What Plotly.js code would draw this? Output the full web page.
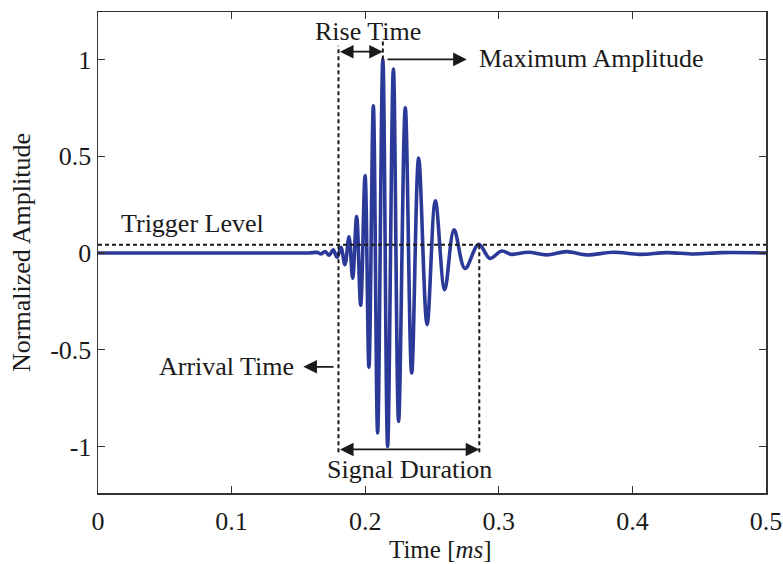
<!DOCTYPE html>
<html>
<head>
<meta charset="utf-8">
<script src="https://cdn.plot.ly/plotly-3.0.1.min.js"></script>
<style>html,body{margin:0;padding:0;background:#fff;}#chart{width:783px;height:564px;}</style>
</head>
<body>
<div id="chart"></div>
<script>
// Signal extrema (time in ms, normalized amplitude)
const timeMs = [0, 0.08, 0.14, 0.158, 0.164, 0.167, 0.170, 0.173, 0.176, 0.179, 0.1818, 0.1848,
  0.1879, 0.1906, 0.1936, 0.1966, 0.1999, 0.2028, 0.2061, 0.2093, 0.2132, 0.2168,
  0.2211, 0.2250, 0.2300, 0.2348, 0.2400, 0.2463, 0.2525, 0.2595, 0.2665, 0.2747,
  0.2850, 0.2934, 0.3021, 0.3096, 0.3221, 0.3358, 0.3508, 0.3658, 0.3857, 0.4057,
  0.4257, 0.4460, 0.4675, 0.5];
const amplitude = [0, 0, 0, 0, 0.003, -0.005, 0.008, -0.012, 0.016, -0.022, 0.03, -0.06,
  0.084, -0.13, 0.188, -0.27, 0.40, -0.59, 0.76, -0.93, 1.0, -1.0,
  0.95, -0.87, 0.75, -0.62, 0.49, -0.37, 0.27, -0.19, 0.12, -0.08,
  0.045, -0.028, 0.01, -0.007, 0.004, -0.01, 0.007, -0.01, 0.004, -0.007,
  0.002, -0.005, 0.002, 0];

// Key event values
const triggerLevel = 0.043;
const arrivalTime = 0.18;
const peakTime = 0.2132;
const endTime = 0.2854;

const xTickVals = [0, 0.1, 0.2, 0.3, 0.4, 0.5];
const xTickText = ['0', '0.1', '0.2', '0.3', '0.4', '0.5'];
const yTickVals = [-1, -0.5, 0, 0.5, 1];
const yTickText = ['-1', '-0.5', '0', '0.5', '1'];

const FONT = 'Liberation Serif, Times New Roman, serif';
const INK = '#1a1a1a';

const trace = {
  x: timeMs, y: amplitude, type: 'scatter', mode: 'lines',
  line: {color: '#2b3a98', width: 3.6, shape: 'spline', smoothing: 1},
  hoverinfo: 'skip'
};

const dashLine = {color: INK, width: 2, dash: '4px,3px'};
const shapes = [
  {type: 'line', xref: 'paper', yref: 'y', x0: 0, x1: 1, y0: triggerLevel, y1: triggerLevel, line: dashLine},
  {type: 'line', xref: 'x', yref: 'y', x0: arrivalTime, x1: arrivalTime, y0: -1.03, y1: 1.07, line: dashLine},
  {type: 'line', xref: 'x', yref: 'y', x0: peakTime, x1: peakTime, y0: 1.0, y1: 1.11, line: dashLine},
  {type: 'line', xref: 'x', yref: 'y', x0: endTime, x1: endTime, y0: -1.03, y1: triggerLevel, line: dashLine}
];

function arrow(x, y, ax, ay, both) {
  return {x: x, y: y, ax: ax, ay: ay, xref: 'x', yref: 'y', axref: 'x', ayref: 'y',
    text: '', showarrow: true, arrowhead: 2, startarrowhead: 2, arrowsize: 1.6, startarrowsize: 1.6,
    arrowwidth: 1.7, arrowcolor: INK, arrowside: both ? 'end+start' : 'end', standoff: 0, startstandoff: 0};
}
function label(text, x, y, xanchor) {
  return {x: x, y: y, xref: 'x', yref: 'y', text: text, showarrow: false,
    xanchor: xanchor || 'center', yanchor: 'middle', font: {family: FONT, size: 26, color: INK}};
}

const annotations = [
  arrow(peakTime, 1.04, arrivalTime, 1.04, true),
  arrow(0.276, 1.0, 0.2156, 1.0, false),
  arrow(0.1537, -0.588, 0.1774, -0.588, false),
  arrow(endTime, -1.015, arrivalTime, -1.015, true),
  label('Rise Time', 0.2019, 1.144),
  label('Maximum Amplitude', 0.284, 1.005, 'left'),
  label('Trigger Level', 0.0708, 0.15),
  label('Arrival Time', 0.0962, -0.587),
  label('Signal Duration', 0.2328, -1.118),
  {x: 0.512, y: -0.1175, xref: 'paper', yref: 'paper', text: 'Time [<i>ms</i>]', showarrow: false,
    xanchor: 'center', yanchor: 'middle', font: {family: FONT, size: 25, color: INK}}
];

const axisCommon = {
  showline: true, linecolor: '#333', linewidth: 1.5, mirror: 'ticks',
  ticks: 'inside', ticklen: 7, tickwidth: 1.2, tickcolor: '#333',
  showgrid: false, zeroline: false,
  tickfont: {family: FONT, size: 26, color: INK}
};

const layout = {
  width: 783, height: 564,
  margin: {l: 98, r: 17, t: 12, b: 71},
  paper_bgcolor: '#fff', plot_bgcolor: '#fff',
  showlegend: false,
  font: {family: FONT, size: 26, color: INK},
  xaxis: Object.assign({}, axisCommon, {
    range: [0, 0.5], tickvals: xTickVals, ticktext: xTickText, ticklabelstandoff: 4
  }),
  yaxis: Object.assign({}, axisCommon, {
    range: [-1.24, 1.245], tickvals: yTickVals, ticktext: yTickText,
    title: {text: 'Normalized Amplitude', font: {family: FONT, size: 26, color: INK}, standoff: 12}
  }),
  shapes: shapes,
  annotations: annotations
};

Plotly.newPlot('chart', [trace], layout, {displayModeBar: false, staticPlot: true});
</script>
</body>
</html>
